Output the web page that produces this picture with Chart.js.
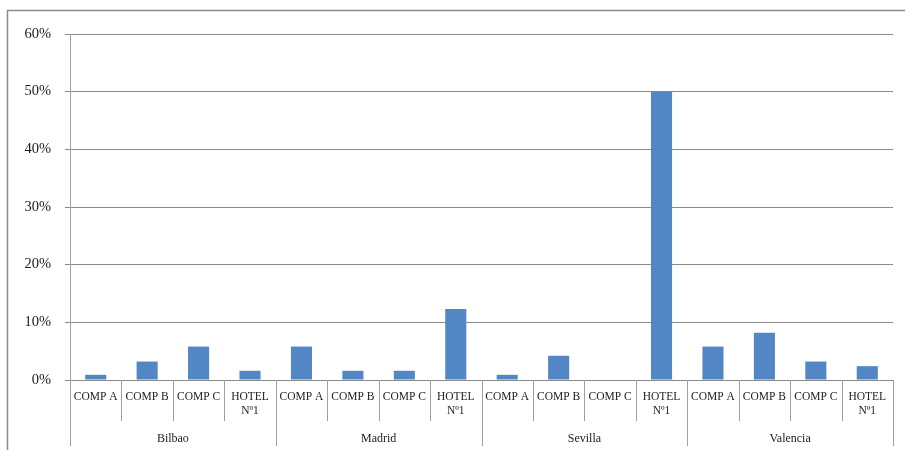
<!DOCTYPE html>
<html>
<head>
<meta charset="utf-8">
<script src="https://cdn.jsdelivr.net/npm/chart.js@4/dist/chart.umd.min.js"></script>
<style>
  html, body { margin: 0; padding: 0; background: #ffffff; }
  #wrap { width: 905px; height: 450px; position: relative; }
</style>
</head>
<body>
<div id="wrap"><canvas id="c" width="905" height="450"></canvas></div>
<script>
// Share per hotel, grouped by city
const cities = ['Bilbao', 'Madrid', 'Sevilla', 'Valencia'];
const hotels = ['COMP A', 'COMP B', 'COMP C', 'HOTEL Nº1'];

const bilbao   = [0.009, 0.032, 0.058, 0.016];
const madrid   = [0.058, 0.016, 0.016, 0.123];
const sevilla  = [0.009, 0.042, 0.000, 0.500];
const valencia = [0.058, 0.082, 0.032, 0.024];

const yTicks = [0, 0.1, 0.2, 0.3, 0.4, 0.5, 0.6];

const perCity = [bilbao, madrid, sevilla, valencia];
const labels = [];
const values = [];
cities.forEach((city, ci) => {
  hotels.forEach((h, hi) => {
    labels.push(h.indexOf(' Nº') > 0 ? h.split(' ') : h);
    values.push(perCity[ci][hi]);
  });
});

const lineGray = '#8a8a8a';
const serif = '"Liberation Serif", "DejaVu Serif", serif';

// Frame and the category separators below the axis
const framePlugin = {
  id: 'frame',
  beforeDraw(chart) {
    const ctx = chart.ctx;
    ctx.save();
    ctx.strokeStyle = '#8c8c8c';
    ctx.lineWidth = 1.5;
    ctx.beginPath();
    ctx.moveTo(7.5, 450);
    ctx.lineTo(7.5, 10.5);
    ctx.lineTo(905, 10.5);
    ctx.stroke();
    ctx.restore();
  },
  afterDraw(chart) {
    const ctx = chart.ctx;
    const xs = chart.scales.x;
    const bottom = chart.chartArea.bottom;
    ctx.save();
    ctx.strokeStyle = '#a0a0a0';
    ctx.lineWidth = 1;
    const n = labels.length;
    for (let i = 0; i <= n; i++) {
      const px = Math.round(xs.getPixelForValue(i - 0.5)) + 0.5;
      const isGroup = i % hotels.length === 0;
      ctx.beginPath();
      ctx.moveTo(px, bottom);
      ctx.lineTo(px, isGroup ? 446 : 421);
      ctx.stroke();
    }
    ctx.restore();
  }
};

new Chart(document.getElementById('c'), {
  type: 'bar',
  data: {
    labels: labels,
    datasets: [{
      data: values,
      backgroundColor: '#5386c5',
      borderWidth: 0,
      barPercentage: 0.41,
      categoryPercentage: 1.0
    }]
  },
  options: {
    responsive: false,
    animation: false,
    layout: { padding: { left: 0, top: 34, right: 12, bottom: 0 } },
    plugins: { legend: { display: false }, tooltip: { enabled: false } },
    scales: {
      y: {
        min: 0,
        max: 0.6,
        afterFit(scale) { scale.width = 70; },
        afterBuildTicks(scale) { scale.ticks = yTicks.map(v => ({ value: v })); },
        ticks: {
          padding: 14,
          color: '#1a1a1a',
          font: { family: serif, size: 14.5 },
          callback: v => Math.round(v * 100) + '%'
        },
        grid: { color: lineGray, tickLength: 5, lineWidth: 1 },
        border: { color: '#a0a0a0' }
      },
      x: {
        afterFit(scale) { scale.height = 42; },
        grid: { display: false },
        border: { display: false },
        ticks: {
          padding: 2,
          color: '#222222',
          autoSkip: false,
          maxRotation: 0,
          font: { family: serif, size: 11.5 }
        }
      },
      x2: {
        type: 'category',
        position: 'bottom',
        labels: cities,
        offset: true,
        afterFit(scale) { scale.height = 28; },
        grid: { display: false },
        border: { display: false },
        ticks: {
          padding: 2,
          color: '#222222',
          font: { family: serif, size: 12 }
        }
      }
    }
  },
  plugins: [framePlugin]
});
</script>
</body>
</html>
